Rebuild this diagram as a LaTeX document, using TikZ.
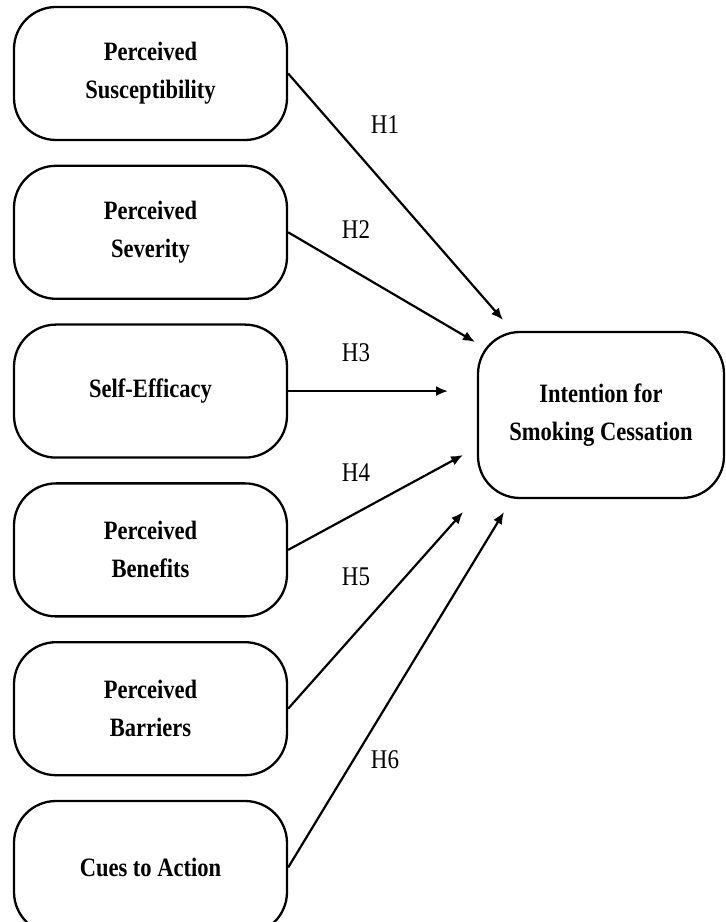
\documentclass[tikz,border=0pt]{standalone}
\usepackage{fontspec}
\setmainfont{Liberation Serif}[FakeStretch=0.85]
\usepackage{tikz}
\usetikzlibrary{positioning,arrows.meta}

\begin{document}
\begin{tikzpicture}[
  x=1pt, y=1pt,
  factor/.style={draw, line width=2.3pt, rounded corners=42pt, minimum width=273pt,
    minimum height=133pt, inner sep=0pt, align=center,
    font=\bfseries\fontsize{26.5}{38}\selectfont},
  outcome/.style={factor, minimum width=246pt, minimum height=166pt},
  path/.style={line width=2.2pt, -{Latex[length=12pt,width=10pt]}},
  hyp/.style={font=\fontsize{27}{30}\selectfont}
]
\useasboundingbox (0,0) rectangle (726,922);

\node[factor] (sus) at (150.5,848.5) {Perceived\\Susceptibility};
\node[factor, below=23.5pt of sus] (sev) {Perceived\\Severity};
\node[factor, below=23.5pt of sev] (eff) {Self-Efficacy};
\node[factor, below=23.5pt of eff] (ben) {Perceived\\Benefits};
\node[factor, below=23.5pt of ben] (bar) {Perceived\\Barriers};
\node[factor, below=23.5pt of bar] (cue) {Cues to Action};

\node[outcome] (int) at (601,507) {Intention for\\Smoking Cessation};

\coordinate (t1) at (503,602);
\coordinate (t2) at (475,580);
\coordinate (t3) at (eff.east -| 448,0);
\coordinate (t4) at (463,467);
\coordinate (t5) at (463,410);
\coordinate (t6) at (504,410);

\draw[path] (sus.east) -- (t1);
\draw[path] (sev.east) -- (t2);
\draw[path] (eff.east) -- (t3);
\draw[path] (ben.east) -- (t4);
\draw[path] (bar.east) -- (t5);
\draw[path] (cue.east) -- (t6);

\node[hyp] (h1) at (385,797) {H1};
\node[hyp] (h2) at (356,692) {H2};
\node[hyp] (h3) at (356,569) {H3};
\node[hyp] (h4) at (356,449) {H4};
\node[hyp] (h5) at (356,345) {H5};
\node[hyp] (h6) at (385,162) {H6};
\end{tikzpicture}
\end{document}
